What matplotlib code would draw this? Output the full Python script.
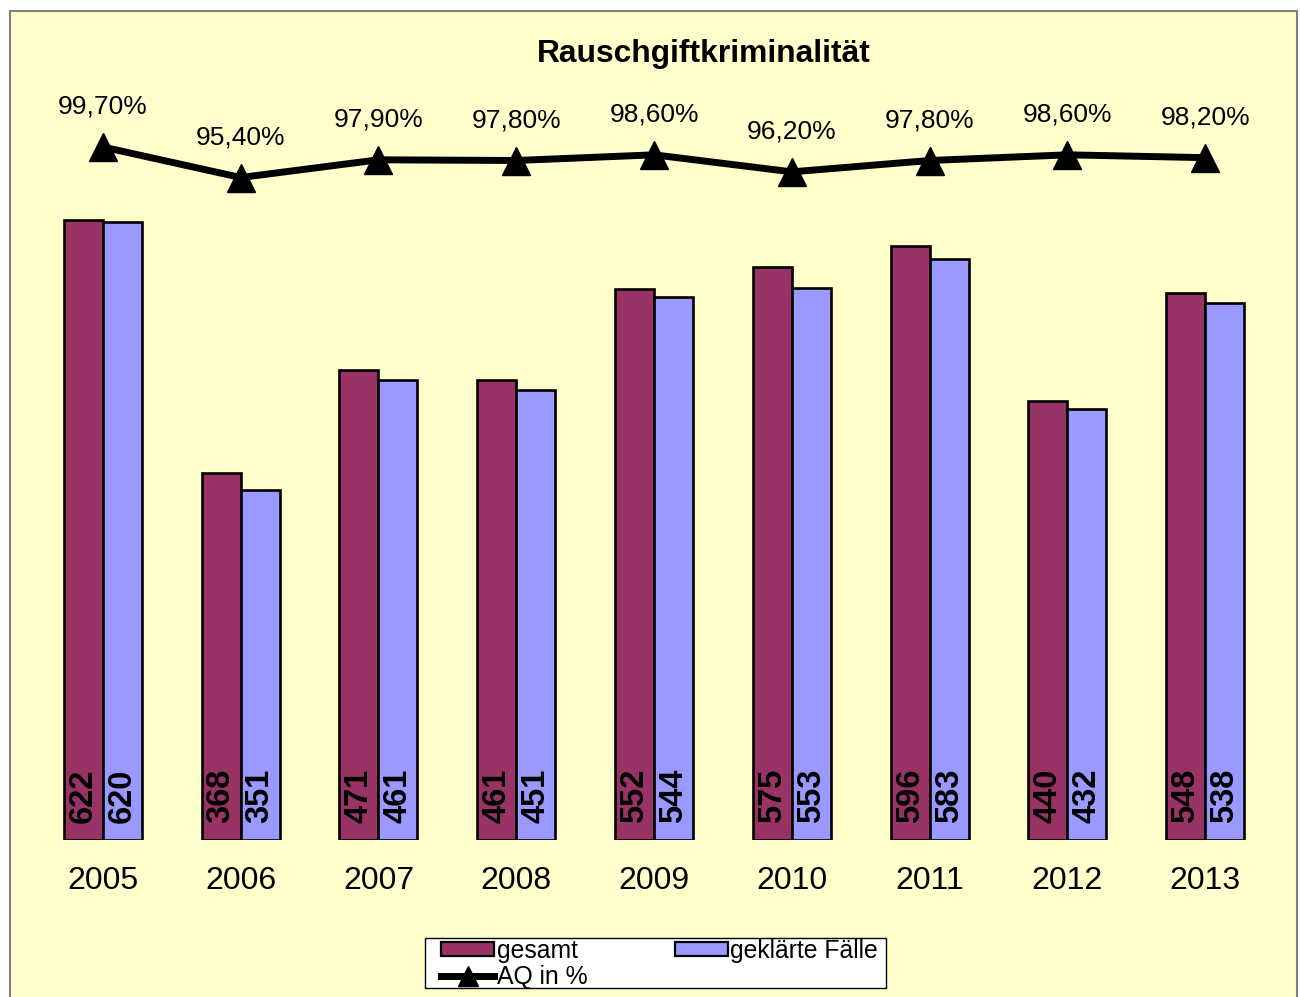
import numpy as np
import matplotlib.pyplot as plt
from matplotlib.patches import Rectangle

plt.rcParams['font.family'] = ['Liberation Sans', 'DejaVu Sans']

years = ["2005", "2006", "2007", "2008", "2009", "2010", "2011", "2012", "2013"]
gesamt = [622, 368, 471, 461, 552, 575, 596, 440, 548]
geklaert = [620, 351, 461, 451, 544, 553, 583, 432, 538]
aq = [99.7, 95.4, 97.9, 97.8, 98.6, 96.2, 97.8, 98.6, 98.2]

W, H = 1300, 997
fig = plt.figure(figsize=(13, 9.97), dpi=100)
fig.patch.set_facecolor('white')

# yellow chart area with grey border
fig.patches.append(Rectangle((10 / W, -0.01), 1287 / W, 1 - 11 / H + 0.01,
                             transform=fig.transFigure, facecolor='#FFFFCC',
                             edgecolor='#808080', linewidth=1.5, zorder=-5))

ax = fig.add_axes([34 / W, 1 - 840 / H, 1240 / W, 750 / H])
ax.set_facecolor('none')
x = np.arange(len(years))
bw = 0.283
ax.bar(x - bw / 2, gesamt, bw, color='#993366', edgecolor='black', linewidth=1.9, zorder=2)
ax.bar(x + bw / 2, geklaert, bw, color='#9999FF', edgecolor='black', linewidth=1.9, zorder=2)
for i in range(len(years)):
    for xo, v in ((-bw / 2, gesamt[i]), (bw / 2, geklaert[i])):
        ax.annotate(str(v), (x[i] + xo, 0), xytext=(0, 12.5), textcoords='offset points',
                    rotation=90, ha='center', va='bottom', fontsize=23.5,
                    fontweight='bold', color='black')
ax.set_xlim(-0.5, len(years) - 0.5)
ax.set_ylim(0, 752)
ax.set_xticks(x)
ax.set_xticklabels(years, fontsize=23)
ax.tick_params(axis='x', length=0, pad=18.5)
ax.set_yticks([])
for s in ax.spines.values():
    s.set_visible(False)

ax2 = ax.twinx()
ax2.set_facecolor('none')
ax2.plot(x, aq, color='black', linewidth=5, marker='^', markersize=20, zorder=3)
for i, v in enumerate(aq):
    ax2.annotate(f"{v:.2f}%".replace('.', ','), (x[i], v), xytext=(0, 29),
                 textcoords='offset points', ha='center', va='center', fontsize=19)
ax2.set_ylim(2.1, 107.73)
ax2.set_yticks([])
for s in ax2.spines.values():
    s.set_visible(False)

fig.text(704 / W, 1 - 54 / H, "Rauschgiftkriminalität", ha='center', va='center',
         fontsize=22.9, fontweight='bold')

# legend box drawn separately, legend itself without frame
fig.patches.append(Rectangle((425 / W, 1 - 988 / H), 461 / W, 50 / H,
                             transform=fig.transFigure, facecolor='white',
                             edgecolor='black', linewidth=1, zorder=1))
h1 = Rectangle((0, 0), 1, 1, facecolor='#993366', edgecolor='black', linewidth=1.6)
h2 = Rectangle((0, 0), 1, 1, facecolor='#9999FF', edgecolor='black', linewidth=1.6)
h3, = ax2.plot([], [], color='black', linewidth=5, marker='^', markersize=14)
leg = fig.legend([h1, h3, h2], ["gesamt", "AQ in %", "geklärte Fälle"], ncol=2,
                 loc='center left', bbox_to_anchor=(441 / W, 1 - 989 / H, 437 / W, 50 / H),
                 mode='expand', fontsize=17.8, frameon=False,
                 handlelength=2.15, handleheight=0.55,
                 handletextpad=0.1, labelspacing=0.1, borderpad=0.0,
                 borderaxespad=0, columnspacing=2)
leg.set_zorder(2)

fig.savefig("out.png", dpi=100)
